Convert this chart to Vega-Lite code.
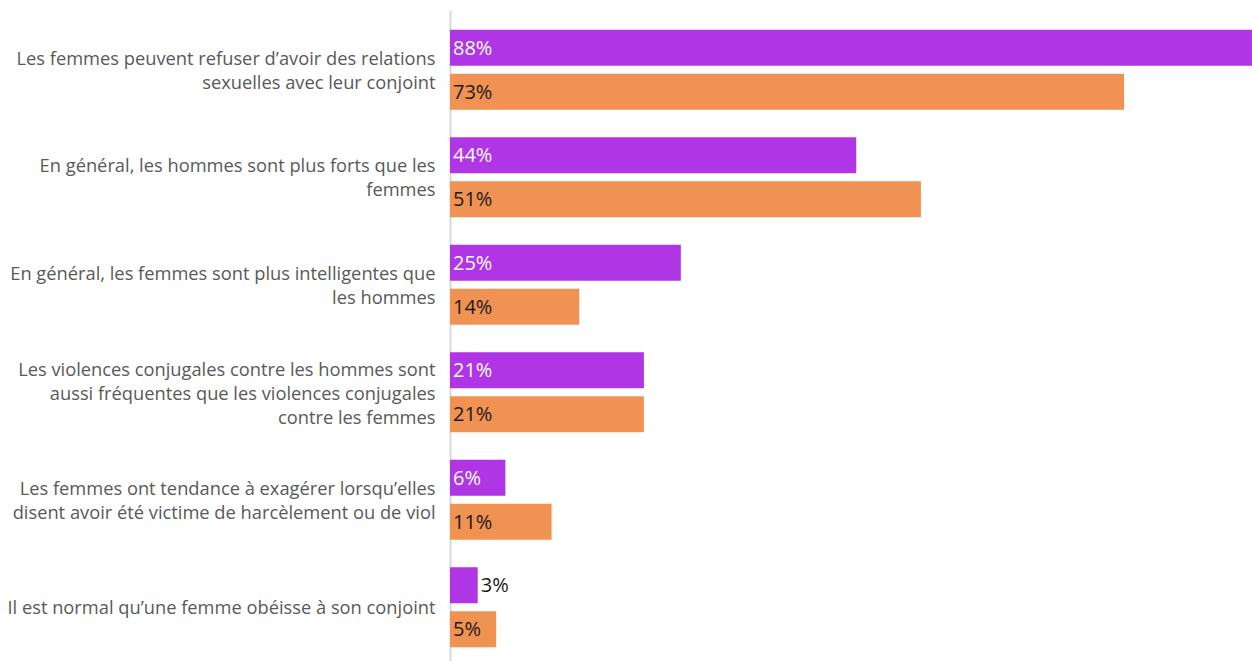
{
  "$schema": "https://vega.github.io/schema/vega-lite/v6.json",
  "width": 802,
  "height": 651,
  "autosize": {"type": "none"},
  "padding": {"left": 450, "top": 10, "right": 0, "bottom": 0},
  "background": "white",
  "config": {"view": {"stroke": null}, "font": "Open Sans"},
  "data": {
    "values": [
      {"cat": "Les femmes peuvent refuser d’avoir des relations|sexuelles avec leur conjoint", "series": "A", "value": 88},
      {"cat": "Les femmes peuvent refuser d’avoir des relations|sexuelles avec leur conjoint", "series": "B", "value": 73},
      {"cat": "En général, les hommes sont plus forts que les|femmes", "series": "A", "value": 44},
      {"cat": "En général, les hommes sont plus forts que les|femmes", "series": "B", "value": 51},
      {"cat": "En général, les femmes sont plus intelligentes que|les hommes", "series": "A", "value": 25},
      {"cat": "En général, les femmes sont plus intelligentes que|les hommes", "series": "B", "value": 14},
      {"cat": "Les violences conjugales contre les hommes sont|aussi fréquentes que les violences conjugales|contre les femmes", "series": "A", "value": 21},
      {"cat": "Les violences conjugales contre les hommes sont|aussi fréquentes que les violences conjugales|contre les femmes", "series": "B", "value": 21},
      {"cat": "Les femmes ont tendance à exagérer lorsqu’elles|disent avoir été victime de harcèlement ou de viol", "series": "A", "value": 6},
      {"cat": "Les femmes ont tendance à exagérer lorsqu’elles|disent avoir été victime de harcèlement ou de viol", "series": "B", "value": 11},
      {"cat": "Il est normal qu’une femme obéisse à son conjoint", "series": "A", "value": 3},
      {"cat": "Il est normal qu’une femme obéisse à son conjoint", "series": "B", "value": 5}
    ]
  },
  "encoding": {
    "y": {
      "field": "cat", "type": "nominal", "sort": null,
      "scale": {"paddingInner": 0, "paddingOuter": 0.0279, "align": 1},
      "axis": {
        "title": null, "ticks": false, "labelPadding": 15,
        "labelExpr": "split(datum.label, '|')",
        "labelFontSize": 18.3, "labelColor": "#595959", "labelLineHeight": 24,
        "labelOffset": {"condition": [
          {"test": "length(split(datum.value, '|')) == 3", "value": -21},
          {"test": "length(split(datum.value, '|')) == 2", "value": -10}
        ], "value": 2},
        "labelLimit": 500, "domainColor": "#d9d9d9", "domainWidth": 2,
        "labelFont": "Open Sans"
      }
    },
    "yOffset": {
      "field": "series", "type": "nominal",
      "scale": {"paddingInner": 0.1818, "paddingOuter": 0.3125}
    }
  },
  "layer": [
    {
      "mark": {"type": "bar", "clip": true},
      "encoding": {
        "x": {"field": "value", "type": "quantitative", "scale": {"domain": [0, 86.86], "nice": false}, "axis": null},
        "color": {"field": "series", "type": "nominal", "scale": {"domain": ["A", "B"], "range": ["#b035e4", "#f09252"]}, "legend": null}
      }
    },
    {
      "transform": [{"filter": "datum.value >= 5"}],
      "mark": {"type": "text", "align": "left", "baseline": "middle", "dx": 3, "dy": 1, "fontSize": 20, "font": "Open Sans", "text": {"expr": "datum.value + '%'"}},
      "encoding": {
        "x": {"datum": 0, "type": "quantitative"},
        "color": {"condition": {"test": "datum.series === 'A'", "value": "white"}, "value": "#1a1a1a"}
      }
    },
    {
      "transform": [{"filter": "datum.value < 5"}],
      "mark": {"type": "text", "align": "left", "baseline": "middle", "dx": 3, "dy": 1, "fontSize": 20, "font": "Open Sans", "color": "#1a1a1a", "text": {"expr": "datum.value + '%'"}},
      "encoding": {
        "x": {"field": "value", "type": "quantitative"}
      }
    }
  ]
}
